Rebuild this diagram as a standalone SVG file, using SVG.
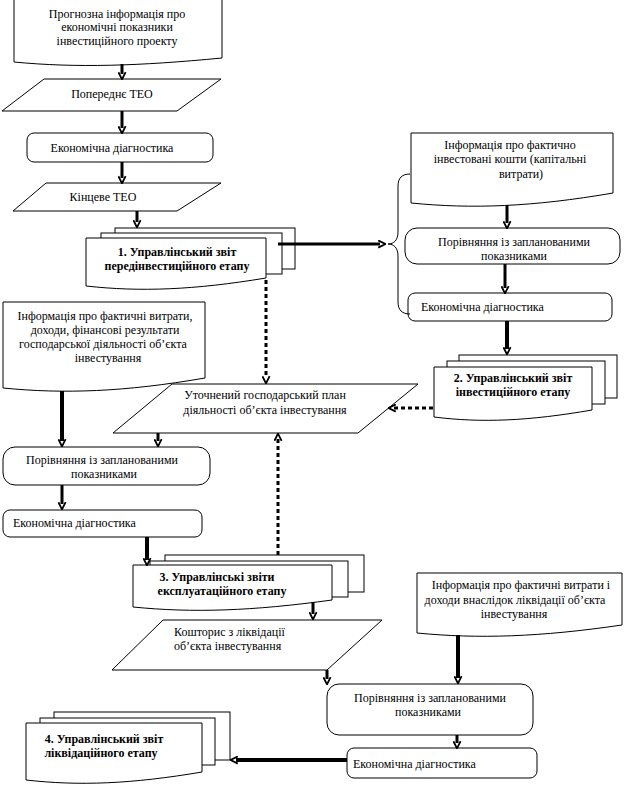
<svg xmlns="http://www.w3.org/2000/svg" width="627" height="785" viewBox="0 0 627 785">
<style>
.s{fill:#fff;stroke:#000;stroke-width:1}
.t{font-family:'Liberation Serif','DejaVu Serif',serif;font-size:12px;fill:#000;text-anchor:middle}
.l{text-anchor:start}
.b{font-weight:bold}
.c{fill:none;stroke:#000;stroke-width:3}
.k{fill:none;stroke:#000;stroke-width:4}
.d{fill:none;stroke:#000;stroke-width:3;stroke-dasharray:4 3}
.br{fill:none;stroke:#000;stroke-width:1}
</style>
<defs>
<marker id="ah" viewBox="0 0 10 10" refX="3" refY="5" markerWidth="9" markerHeight="9" markerUnits="userSpaceOnUse" orient="auto">
<path d="M1,1 L9,5 L1,9" fill="none" stroke="#000" stroke-width="2"/>
</marker>
</defs>
<rect width="627" height="785" fill="#fff"/>

<g id="n-forecast">
<path class="s" d="M14,-2 H222 V58 C138.8,66 76.4,68 14,62 Z"/>
<text class="t" x="117" y="18">Прогнозна інформація про</text>
<text class="t" x="117" y="31">економічні показники</text>
<text class="t" x="117" y="45">інвестиційного проекту</text>
</g>
<g id="n-prelim-teo">
<path class="s" d="M44,79 H221 L177,111 H2 Z"/>
<text class="t" x="112" y="98">Попереднє ТЕО</text>
</g>
<g id="n-econ1">
<rect class="s" x="27" y="133" width="186" height="29" rx="7"/>
<text class="t" x="112" y="152">Економічна діагностика</text>
</g>
<g id="n-final-teo">
<path class="s" d="M46,183 H221 L177,211 H13 Z"/>
<text class="t" x="103" y="201">Кінцеве ТЕО</text>
</g>
<g id="n-report1">
<rect class="s" x="115" y="228" width="180" height="41"/>
<rect class="s" x="101" y="233" width="181" height="41"/>
<path class="s" d="M86,238 H266 V278 C194,290 140,292 86,286 Z"/>
<text class="t b" x="177" y="256">1. Управлінський звіт</text>
<text class="t b" x="177" y="270">передінвестиційного етапу</text>
</g>
<g id="n-invest-info">
<path class="s" d="M411,133 H613 V193 C532.2,207 471.6,209 411,203 Z"/>
<text class="t" x="510" y="149">Інформація про фактично</text>
<text class="t" x="510" y="163">інвестовані кошти (капітальні</text>
<text class="t" x="521" y="178">витрати)</text>
</g>
<g id="n-compare1">
<rect class="s" x="405" y="228" width="215" height="36" rx="12"/>
<text class="t" x="514" y="246">Порівняння із запланованими</text>
<text class="t" x="514" y="260">показниками</text>
</g>
<g id="n-econ2">
<rect class="s" x="408" y="293" width="204" height="28" rx="7"/>
<text class="t l" x="421" y="311">Економічна діагностика</text>
</g>
<g id="n-brace">
<path class="br" d="M410,174 C402,174 398,178 398,186 V232 C398,240 394,244 388,244 C394,244 398,248 398,256 V302 C398,310 402,314 410,314"/>
</g>
<g id="n-report2">
<rect class="s" x="459" y="355" width="158" height="43"/>
<rect class="s" x="447" y="361" width="158" height="43"/>
<path class="s" d="M434,367 H592 V410 C528.8,421 481.4,423 434,417 Z"/>
<text class="t b" x="513" y="382">2. Управлінський звіт</text>
<text class="t b" x="513" y="396">інвестиційного етапу</text>
</g>
<g id="n-oper-info">
<path class="s" d="M3,302 H205 V378 C124.2,392 63.6,394 3,388 Z"/>
<text class="t" x="105" y="320">Інформація про фактичні витрати,</text>
<text class="t" x="105" y="334">доходи, фінансові результати</text>
<text class="t" x="103" y="348">господарської діяльності об’єкта</text>
<text class="t" x="108" y="362">інвестування</text>
</g>
<g id="n-plan">
<path class="s" d="M172,384 H418 L358,433 H113 Z"/>
<text class="t" x="265" y="399">Уточнений господарський план</text>
<text class="t" x="265" y="414">діяльності об’єкта інвестування</text>
</g>
<g id="n-compare2">
<rect class="s" x="3" y="447" width="207" height="38" rx="12"/>
<text class="t" x="102" y="464">Порівняння із запланованими</text>
<text class="t" x="104" y="478">показниками</text>
</g>
<g id="n-econ3">
<rect class="s" x="3" y="510" width="199" height="27" rx="7"/>
<text class="t l" x="13" y="527">Економічна діагностика</text>
</g>
<g id="n-report3">
<rect class="s" x="165" y="555" width="199" height="37"/>
<rect class="s" x="150" y="561" width="198" height="36"/>
<path class="s" d="M133,565 H332 V600 C252.4,611 192.7,613 133,607 Z"/>
<text class="t b" x="217" y="581">3. Управлінські звіти</text>
<text class="t b" x="222" y="595">експлуатаційного етапу</text>
</g>
<g id="n-estimate">
<path class="s" d="M163,620 H382 L327,670 H112 Z"/>
<text class="t l" x="174" y="636">Кошторис з ліквідації</text>
<text class="t l" x="174" y="650">об’єкта інвестування</text>
</g>
<g id="n-liq-info">
<path class="s" d="M417,573 H622 V625 C540,637 478.5,639 417,633 Z"/>
<text class="t" x="521" y="589">Інформація про фактичні витрати і</text>
<text class="t" x="515" y="604">доходи внаслідок ліквідації об’єкта</text>
<text class="t" x="514" y="618">інвестування</text>
</g>
<g id="n-compare3">
<rect class="s" x="327" y="684" width="206" height="51" rx="12"/>
<text class="t" x="430" y="702">Порівняння із запланованими</text>
<text class="t" x="428" y="716">показниками</text>
</g>
<g id="n-econ4">
<rect class="s" x="347" y="748" width="190" height="30" rx="7"/>
<text class="t l" x="353" y="768">Економічна діагностика</text>
</g>
<g id="n-report4">
<rect class="s" x="54" y="712" width="176" height="48"/>
<rect class="s" x="40" y="718" width="175" height="47"/>
<path class="s" d="M26,723 H202 V772 C131.6,784 78.8,786 26,780 Z"/>
<text class="t b" x="104" y="743">4. Управлінський звіт</text>
<text class="t b" x="101" y="757">ліквідаційного етапу</text>
</g>

<g id="connectors">
<line class="c" x1="122" y1="64" x2="122" y2="74" marker-end="url(#ah)"/>
<line class="c" x1="122" y1="111" x2="122" y2="128" marker-end="url(#ah)"/>
<line class="c" x1="122" y1="162" x2="122" y2="178" marker-end="url(#ah)"/>
<line class="c" x1="137" y1="211" x2="137" y2="222" marker-end="url(#ah)"/>
<line class="c" x1="278" y1="244" x2="380" y2="244" marker-end="url(#ah)"/>
<line class="c" x1="507" y1="205" x2="507" y2="223" marker-end="url(#ah)"/>
<line class="c" x1="505" y1="264" x2="505" y2="288" marker-end="url(#ah)"/>
<line class="k" x1="507" y1="321" x2="507" y2="349" marker-end="url(#ah)"/>
<line class="d" x1="433" y1="408" x2="394" y2="408" marker-end="url(#ah)"/>
<line class="d" x1="266" y1="280" x2="266" y2="378" marker-end="url(#ah)"/>
<line class="k" x1="62" y1="391" x2="62" y2="441" marker-end="url(#ah)"/>
<line class="c" x1="158" y1="433" x2="158" y2="441" marker-end="url(#ah)"/>
<line class="d" x1="278" y1="555" x2="278" y2="439" marker-end="url(#ah)"/>
<line class="c" x1="62" y1="485" x2="62" y2="504" marker-end="url(#ah)"/>
<line class="k" x1="147" y1="537" x2="147" y2="560" marker-end="url(#ah)"/>
<line class="c" x1="313" y1="602" x2="313" y2="614" marker-end="url(#ah)"/>
<line class="c" x1="327" y1="670" x2="327" y2="679" marker-end="url(#ah)"/>
<line class="k" x1="458" y1="635" x2="458" y2="678" marker-end="url(#ah)"/>
<line class="c" x1="457" y1="735" x2="457" y2="743" marker-end="url(#ah)"/>
<line class="k" x1="347" y1="760" x2="236" y2="760" marker-end="url(#ah)"/>
</g>
</svg>
